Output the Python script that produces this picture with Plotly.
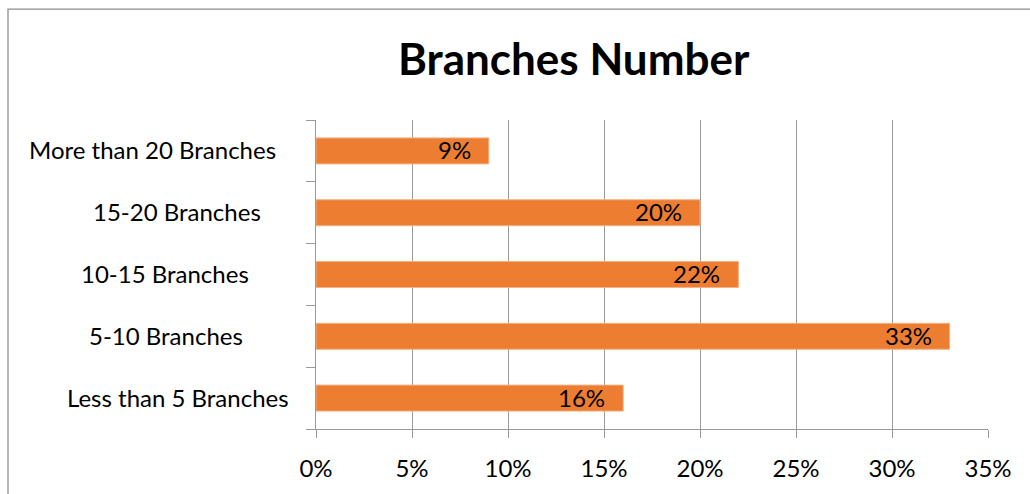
import plotly.graph_objects as go

# Share of companies by number of branches (percent)
categories = [
    "Less than 5 Branches",
    "5-10 Branches",
    "10-15 Branches",
    "15-20 Branches",
    "More than 20 Branches",
]
shares = [16, 33, 22, 20, 9]
x_ticks = [0, 5, 10, 15, 20, 25, 30, 35]
x_tick_labels = ["0%", "5%", "10%", "15%", "20%", "25%", "30%", "35%"]

# Canvas and plot-area geometry (pixels)
W, H = 1030, 494
L, R, T, B = 316, 988, 120, 432


def px_x(p):
    return (p - L) / (R - L)


def px_y(p):
    return (B - p) / (B - T)


# Horizontal centres of the category captions
label_centres = [178, 166, 165, 177, 152]

FONT = "Lato"
BAR = "#ED7D31"
GRID = "#9A9A9A"

fig = go.Figure(
    go.Bar(
        x=shares,
        y=categories,
        orientation="h",
        marker=dict(color=BAR, line=dict(color="#F4B183", width=1)),
        width=0.42,
        hoverinfo="skip",
    )
)

annotations = []
for cat, v in zip(categories, shares):
    annotations.append(
        dict(
            x=v, y=cat, xref="x", yref="y",
            text=f"{v}%", showarrow=False,
            xanchor="right", yanchor="middle", xshift=-16, yshift=1,
            font=dict(family=FONT, size=24, color="black"),
        )
    )
for cat, cx in zip(categories, label_centres):
    annotations.append(
        dict(
            x=px_x(cx), y=cat, xref="paper", yref="y",
            text=cat, showarrow=False,
            xanchor="center", yanchor="middle", yshift=1,
            font=dict(family=FONT, size=24, color="black"),
        )
    )
annotations.append(
    dict(
        x=px_x(574), y=px_y(57), xref="paper", yref="paper",
        text="<b>Branches Number</b>", showarrow=False,
        xanchor="center", yanchor="middle",
        font=dict(family=FONT, size=44, color="black"),
    )
)

fig.update_layout(
    width=W,
    height=H,
    margin=dict(l=L, r=W - R, t=T, b=H - B, pad=0),
    paper_bgcolor="white",
    plot_bgcolor="white",
    showlegend=False,
    annotations=annotations,
    shapes=[
        dict(
            type="rect", xref="paper", yref="paper",
            x0=px_x(8), x1=px_x(1200), y0=px_y(700), y1=px_y(8),
            line=dict(color="#8C8C8C", width=1.25),
            fillcolor="rgba(0,0,0,0)", layer="below",
        )
    ],
    xaxis=dict(
        range=[0, 35],
        tickmode="array",
        tickvals=x_ticks,
        ticktext=x_tick_labels,
        showgrid=True,
        gridcolor=GRID,
        gridwidth=1,
        zeroline=False,
        showline=True,
        linecolor=GRID,
        linewidth=1,
        ticks="outside",
        ticklen=8,
        tickcolor=GRID,
        ticklabelstandoff=10,
        tickfont=dict(family=FONT, size=24, color="black"),
        fixedrange=True,
    ),
    yaxis=dict(
        categoryorder="array",
        categoryarray=categories,
        showgrid=False,
        zeroline=False,
        showline=True,
        linecolor=GRID,
        linewidth=1,
        ticks="outside",
        tickson="boundaries",
        ticklen=9,
        tickcolor=GRID,
        showticklabels=False,
        fixedrange=True,
    ),
)

fig.write_html("out.html")
